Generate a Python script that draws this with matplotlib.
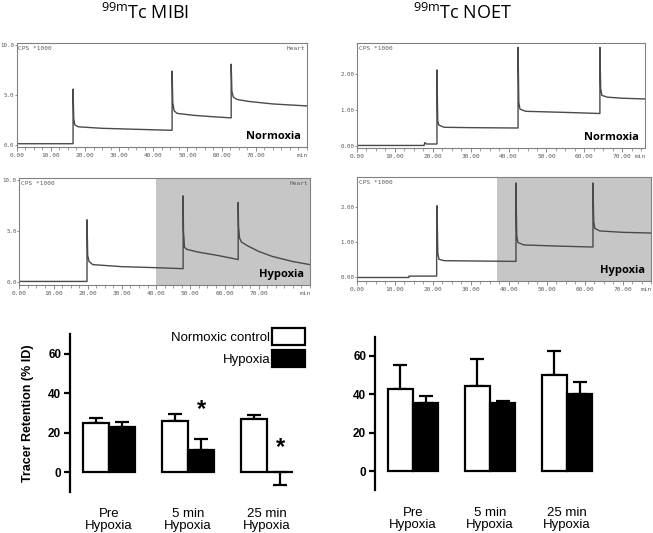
import matplotlib
matplotlib.use('Agg')
import matplotlib.pyplot as plt
from matplotlib.ticker import FixedLocator, MultipleLocator
from matplotlib.transforms import blended_transform_factory
import numpy as np

plt.rcParams['mathtext.fontset'] = 'custom'
plt.rcParams['mathtext.rm'] = 'Open Sans'

# ---------------- data ----------------
# time-activity curves (min, CPS*1000)
mibi_norm_t = [0, 16.5, 16.5, 16.7, 17.0, 18.0, 25, 35, 45.5, 45.5, 45.7, 46.1, 47.0, 52, 58,
               62.8, 62.8, 63.0, 63.4, 64.5, 68, 75, 85]
mibi_norm_v = [0.1, 0.1, 5.6, 2.6, 2.0, 1.8, 1.65, 1.55, 1.45, 7.4, 4.2, 3.4, 3.15, 2.95, 2.8,
               2.7, 8.1, 5.4, 4.8, 4.55, 4.35, 4.1, 3.9]

mibi_hyp_t = [0, 19.8, 19.8, 20.0, 20.4, 21.5, 30, 40, 47.9, 47.9, 48.0, 48.3, 49.0, 52, 58,
              64.0, 64.0, 64.1, 64.4, 65.0, 67, 70, 74, 80, 85]
mibi_hyp_v = [0.05, 0.05, 6.1, 2.6, 2.0, 1.7, 1.5, 1.4, 1.3, 8.45, 5.0, 3.4, 3.2, 2.95, 2.6,
              2.2, 7.8, 5.5, 4.3, 3.9, 3.5, 3.0, 2.5, 2.0, 1.7]

noet_norm_t = [0, 17.7, 17.9, 18.3, 21.1, 21.1, 21.3, 21.6, 23, 30, 42.5, 42.5, 42.7, 43.0,
               44.5, 55, 64.1, 64.1, 64.3, 64.6, 66, 70, 76]
noet_norm_v = [0.02, 0.02, 0.1, 0.06, 0.06, 2.1, 0.7, 0.58, 0.52, 0.51, 0.5, 2.72, 1.2, 1.02,
               0.96, 0.93, 0.9, 2.72, 1.6, 1.4, 1.35, 1.32, 1.3]

noet_hyp_t = [0, 13.7, 13.7, 21.0, 21.0, 21.1, 21.3, 21.6, 23, 32, 41.9, 41.9, 42.1, 42.4,
              44, 52, 62.2, 62.2, 62.4, 62.7, 64, 70, 77.5]
noet_hyp_v = [0.0, 0.0, 0.04, 0.04, 0.62, 2.05, 0.7, 0.52, 0.48, 0.47, 0.46, 2.7, 1.2, 1.0,
              0.93, 0.9, 0.87, 2.7, 1.6, 1.4, 1.33, 1.29, 1.27]

mibi_hypoxia_start = 40
noet_hypoxia_start = 36.9
trace_xticks = [0, 10, 20, 30, 40, 50, 60, 70]
mibi_yticks = [0, 5, 10]
noet_yticks = [0, 1, 2]

# bar charts (% ID)
categories = ['Pre\nHypoxia', '5 min\nHypoxia', '25 min\nHypoxia']
series_names = ['Normoxic control', 'Hypoxia']
mibi_ctrl = [24.9, 25.8, 27.1]
mibi_ctrl_err = [2.7, 3.5, 2.1]
mibi_hyp = [23.0, 11.4, 0.0]
mibi_hyp_err_up = [2.4, 5.4, 0.0]
mibi_hyp_err_down = [0.0, 0.0, 6.6]
noet_ctrl = [42.6, 44.5, 49.9]
noet_ctrl_err = [12.7, 13.8, 12.5]
noet_hyp = [35.3, 35.3, 40.2]
noet_hyp_err = [3.7, 1.2, 6.1]
bar_yticks = [0, 20, 40, 60]
signif_mibi = [False, True, True]
signif_y = [None, 32, 12.5]

# ---------------- figure ----------------
W, H = 653, 533
fig = plt.figure(figsize=(W / 100, H / 100), dpi=100)


def rect(x0, y0, x1, y1):
    return [x0 / W, 1 - y1 / H, (x1 - x0) / W, (y1 - y0) / H]


MONO = 'DejaVu Sans Mono'
GRAY = '#5a5a5a'
TFS = 4.4
YFS = 4.2


def trace_panel(r, t, v, xlim, ylim, yticks, yfmt, label, heart, shade_start=None):
    ax = fig.add_axes(r)
    if shade_start is not None:
        ax.axvspan(shade_start, xlim[1], color='#c6c6c6', lw=0, zorder=0)
    ax.plot(t, v, color='#4a4a4a', lw=1.0, zorder=2)
    ax.set_xlim(xlim)
    ax.set_ylim(ylim)
    ax.xaxis.set_major_locator(FixedLocator(trace_xticks))
    ax.set_xticklabels([f'{x:.2f}' for x in trace_xticks])
    ax.xaxis.set_minor_locator(MultipleLocator(2.5))
    ax.yaxis.set_major_locator(FixedLocator(yticks))
    ax.set_yticklabels([yfmt.format(y) for y in yticks])
    ax.tick_params(axis='x', which='major', direction='out', length=3, width=0.6,
                   color='#777777', labelsize=TFS, labelcolor=GRAY, pad=1.5)
    ax.tick_params(axis='y', which='major', direction='out', length=1.5, width=0.6,
                   color='#777777', labelsize=YFS, labelcolor=GRAY, pad=0.3)
    ax.tick_params(axis='x', which='minor', direction='out', length=1.8, width=0.5,
                   color='#777777')
    for lbl in ax.get_xticklabels() + ax.get_yticklabels():
        lbl.set_family(MONO)
    for s in ax.spines.values():
        s.set_color('#808080')
        s.set_linewidth(0.8)
    ax.text(0.006, 0.97, 'CPS *1000', transform=ax.transAxes, ha='left', va='top',
            fontsize=TFS, family=MONO, color=GRAY)
    if heart:
        ax.text(0.995, 0.97, 'Heart', transform=ax.transAxes, ha='right', va='top',
                fontsize=TFS, family=MONO, color=GRAY)
    tr = blended_transform_factory(ax.transData, ax.transAxes)
    ax.annotate('min', xy=(xlim[1], 0), xycoords=tr, xytext=(0.5, -4.5),
                textcoords='offset points', ha='right', va='top', fontsize=TFS,
                family=MONO, color=GRAY)
    ax.text(0.98, 0.1, label, transform=ax.transAxes, ha='right', va='center',
            fontsize=8, fontweight='bold', family='Open Sans', color='black', zorder=5)
    return ax


trace_panel(rect(16.7, 43, 307, 147), mibi_norm_t, mibi_norm_v, (0, 85), (-0.23, 10.23),
            mibi_yticks, '{:.1f}', 'Normoxia', True)
trace_panel(rect(19.3, 178, 310, 285), mibi_hyp_t, mibi_hyp_v, (0, 85), (-0.3, 10.2),
            mibi_yticks, '{:.1f}', 'Hypoxia', True, mibi_hypoxia_start)
trace_panel(rect(357, 43, 645, 148), noet_norm_t, noet_norm_v, (0, 76), (-0.05, 2.84),
            noet_yticks, '{:.2f}', 'Normoxia', False)
trace_panel(rect(357, 177, 651, 281), noet_hyp_t, noet_hyp_v, (0, 77.5), (-0.1, 2.87),
            noet_yticks, '{:.2f}', 'Hypoxia', False, noet_hypoxia_start)

# titles
fig.text(145 / W, 1 - 19 / H, r'$^{\mathregular{99m}}$Tc MIBI', ha='center', va='baseline',
         fontsize=13, family='Open Sans')
fig.text(463 / W, 1 - 19 / H, r'$^{\mathregular{99m}}$Tc NOET', ha='center', va='baseline',
         fontsize=13, family='Open Sans')

# ---------------- bar charts ----------------
BAR_FONT = 'Liberation Sans'
bw = 0.33


def bar_panel(r, ctrl, ctrl_err, hyp, hyp_err, ylabel=None):
    ax = fig.add_axes(r)
    x = np.arange(len(categories))
    b1 = ax.bar(x - bw / 2, ctrl, bw, color='white', edgecolor='black', linewidth=1.6,
                zorder=3, label=series_names[0])
    b2 = ax.bar(x + bw / 2, hyp, bw, color='black', edgecolor='black', linewidth=1.6,
                zorder=3, label=series_names[1])
    ekw = dict(fmt='none', ecolor='black', elinewidth=1.6, capsize=5, capthick=1.6, zorder=2)
    ax.errorbar(x - bw / 2, ctrl, yerr=[np.zeros(len(ctrl)), ctrl_err], **ekw)
    ax.errorbar(x + bw / 2, hyp, yerr=hyp_err, **ekw)
    ax.set_xlim(-0.5, 2.5)
    ax.set_ylim(-10, 70)
    for s in ['top', 'right', 'bottom']:
        ax.spines[s].set_visible(False)
    ax.spines['left'].set_linewidth(1.6)
    ax.set_yticks(bar_yticks)
    ax.tick_params(axis='y', direction='out', length=4, width=1.6, labelsize=8.5, pad=2)
    for lbl in ax.get_yticklabels():
        lbl.set_fontweight('bold')
        lbl.set_family(BAR_FONT)
    ax.set_xticks(x)
    ax.set_xticklabels(categories)
    ax.tick_params(axis='x', length=0, pad=12, labelsize=9.5)
    for lbl in ax.get_xticklabels():
        lbl.set_family(BAR_FONT)
        lbl.set_linespacing(1.0)
    if ylabel:
        ax.set_ylabel(ylabel, fontsize=9, fontweight='bold', family=BAR_FONT, labelpad=10)
    ax.patch.set_alpha(0)
    return ax, b1, b2


axL, b1, b2 = bar_panel(rect(69.5, 334.3, 306.5, 491.7), mibi_ctrl, mibi_ctrl_err, mibi_hyp,
                        [mibi_hyp_err_down, mibi_hyp_err_up], 'Tracer Retention (% ID)')
for i, sig in enumerate(signif_mibi):
    if sig:
        axL.text(i + bw / 2 + 0.01, signif_y[i], '*', ha='center', va='center',
                 fontsize=17, fontweight='bold', family=BAR_FONT)

axL.legend(handles=[b1, b2], loc='upper right', bbox_to_anchor=(305 / W, 1 - 328 / H),
           bbox_transform=fig.transFigure, frameon=False, markerfirst=False,
           handlelength=2.5, handleheight=1.55, handletextpad=0.15, labelspacing=0.42,
           borderpad=0, borderaxespad=0, prop={'family': BAR_FONT, 'size': 9.5})

bar_panel(rect(374.5, 336.8, 605.5, 490.2), noet_ctrl, noet_ctrl_err, noet_hyp,
          [np.zeros(len(noet_hyp)), noet_hyp_err])

fig.savefig('out.png', dpi=100)
